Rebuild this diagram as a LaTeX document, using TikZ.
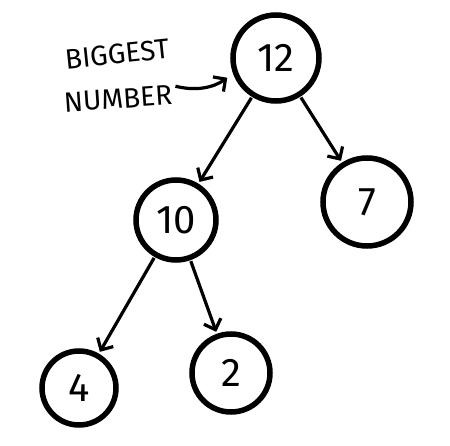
\documentclass[tikz,border=0pt]{standalone}
\usepackage{fontspec}
\setmainfont{Fira Sans}
\usetikzlibrary{arrows.meta,positioning}
\tikzset{
  heapnd/.style={circle,draw=black,line width=5.5pt,inner sep=0pt,
                 font=\fontsize{40}{40}\selectfont},
  heapedge/.style={-{Straight Barb[length=9pt,width=18pt,line width=3.2pt]},
                   line width=3.2pt,shorten >=2pt,shorten <=1pt},
  note/.style={font=\fontsize{28}{28}\selectfont,inner sep=0pt},
}
\begin{document}
\begin{tikzpicture}[x=1pt,y=-1pt]
  \useasboundingbox (0,0) rectangle (450,446);
  % the heap
  \node[heapnd,minimum size=86pt] (n12) at (276,58) {12};
  \node[heapnd,minimum size=80pt] (n10) at (176,220) {10};
  \node[heapnd,minimum size=88pt] (n7) at (367,202) {7};
  \node[heapnd,minimum size=74pt] (n4) at (79,388) {4};
  \node[heapnd,minimum size=78pt] (n2) at (231,373) {2};
  % edges
  \draw[heapedge] (n12) -- (n10);
  \draw[heapedge] (n12) -- (n7);
  \draw[heapedge] (n10) -- (n4);
  \draw[heapedge] (n10) -- (n2);
  % label
  \node[note,rotate=6] (big) at (117,54) {BIGGEST};
  \node[note,rotate=4] (num) at (118,99) {NUMBER};
  \draw[heapedge,shorten >=7pt,shorten <=4pt] (num.north east) to[bend right=25] (n12.200);
\end{tikzpicture}
\end{document}
